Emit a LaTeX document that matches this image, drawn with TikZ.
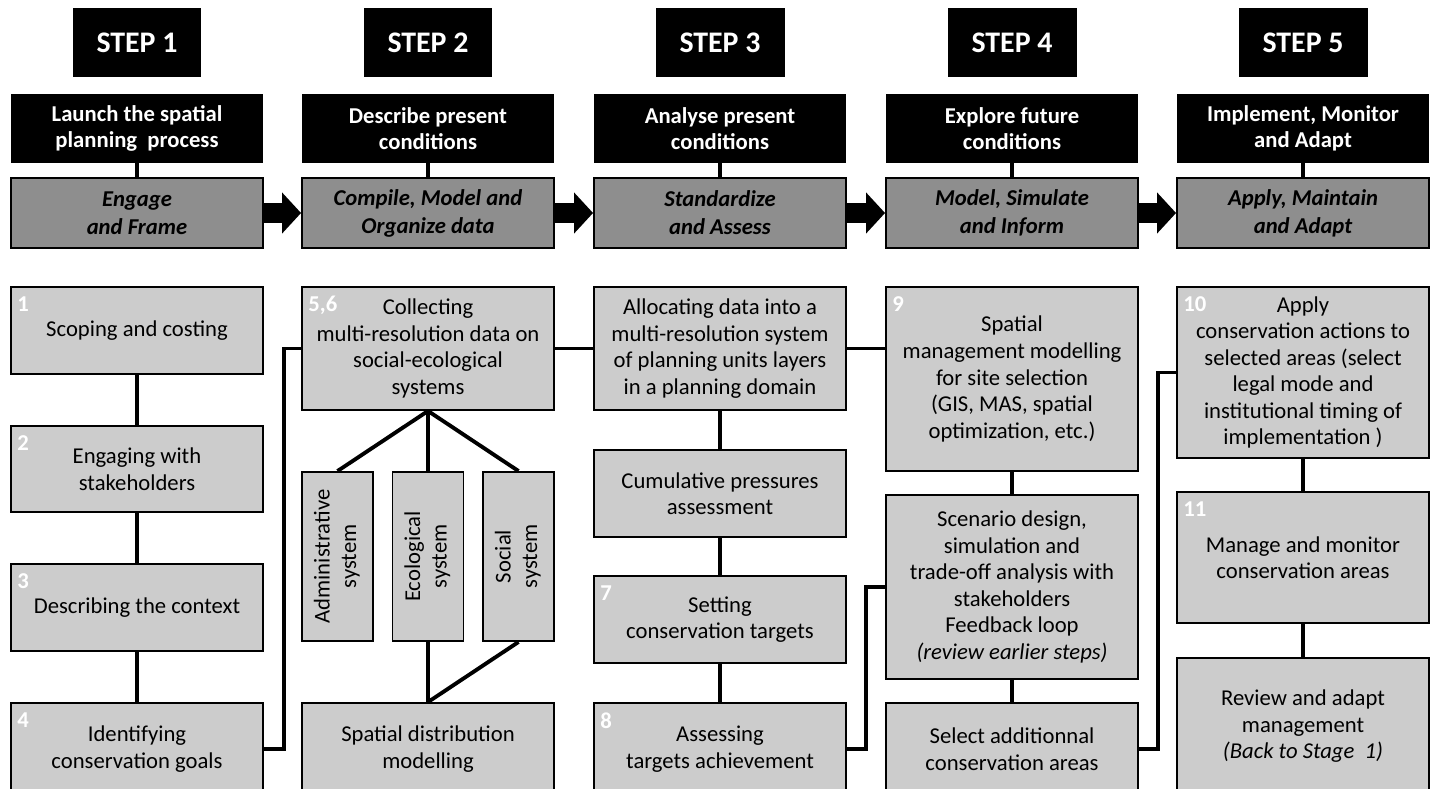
\documentclass[tikz,border=0pt]{standalone}
\usepackage{fontspec}
\setmainfont{Carlito}
\usetikzlibrary{arrows.meta}

\definecolor{boxgray}{RGB}{204,204,204}
\definecolor{rowgray}{RGB}{142,142,142}
\newcommand{\boxfont}{\fontsize{12.9}{15.1}\selectfont}

\begin{document}
\begin{tikzpicture}[x=0.02cm, y=-0.02cm, >={Triangle[length=0.38cm,width=0.8cm]},
  stephead/.style={fill=black, text=white, font=\fontsize{17}{20}\selectfont\bfseries,
    minimum width=2.58cm, minimum height=1.38cm},
  head/.style={fill=black, text=white, font=\boxfont\bfseries, align=center,
    minimum width=5.04cm, minimum height=1.38cm},
  task/.style={draw, fill=rowgray, line width=1.1pt, font=\fontsize{12.9}{15.9}\selectfont\bfseries\itshape,
    align=center, minimum width=5.04cm, minimum height=1.4cm},
  box/.style={draw, fill=boxgray, line width=1.1pt, font=\boxfont, align=center,
    inner sep=0pt, minimum width=5.04cm},
  sub/.style={draw, fill=boxgray, line width=1.1pt, font=\boxfont, inner sep=0pt,
    minimum width=1.42cm, minimum height=3.38cm},
  num/.style={label={[anchor=north west, inner sep=0pt, text=white, font=\boxfont\bfseries,
    xshift=0.14cm, yshift=-0.2cm]north west:#1}},
  link/.style={line width=2.2pt}]

  \useasboundingbox (0,0) rectangle (1432,788);
  \clip (0,0) rectangle (1432,788);

  \node (s1) at (137,42.5) [stephead] {STEP 1};
  \node (s2) at (428,42.5) [stephead] {STEP 2};
  \node (s3) at (720,42.5) [stephead] {STEP 3};
  \node (s4) at (1012,42.5) [stephead] {STEP 4};
  \node (s5) at (1303,42.5) [stephead] {STEP 5};

  \node (h1) at (137,128.5) [head] {Launch the spatial\\planning\ \ process};
  \node (h2) at (428,128.5) [head] {Describe present\\conditions};
  \node (h3) at (720,128.5) [head] {Analyse present\\conditions};
  \node (h4) at (1012,128.5) [head] {Explore future\\conditions};
  \node (h5) at (1303,128.5) [head] {Implement, Monitor\\and Adapt};

  \node (g1) at (137,213) [task] {Engage\\and Frame};
  \node (g2) at (428,213) [task] {Compile, Model and\\Organize data};
  \node (g3) at (720,213) [task] {Standardize\\and Assess};
  \node (g4) at (1012,213) [task] {Model, Simulate\\and Inform};
  \node (g5) at (1303,213) [task] {Apply, Maintain\\and Adapt};

  \draw [link] (h1) -- (g1);
  \draw [link] (h2) -- (g2);
  \draw [link] (h3) -- (g3);
  \draw [link] (h4) -- (g4);
  \draw [link] (h5) -- (g5);

  \draw [->, line width=0.4cm] (g1) -- (g2);
  \draw [->, line width=0.4cm] (g2) -- (g3);
  \draw [->, line width=0.4cm] (g3) -- (g4);
  \draw [->, line width=0.4cm] (g4) -- (g5);

  \node (n11) at (137,330.5) [box, minimum height=1.74cm, num=1] {Scoping and costing};
  \node (n12) at (137,469) [box, minimum height=1.72cm, num=2] {Engaging with\\stakeholders};
  \node (n13) at (137,607.5) [box, minimum height=1.74cm, num=3] {Describing the context};
  \node (n14) at (137,749) [box, minimum height=1.84cm, num=4] {Identifying\\conservation goals};

  \node (n21) at (428,348.5) [box, minimum height=2.46cm, num={5,6}] {Collecting\\multi-resolution data on\\social-ecological\\systems};
  \node (n22) at (337.5,556.5) [sub] {\rotatebox{90}{\begin{tabular}{@{}c@{}}Administrative\\system\end{tabular}}};
  \node (n23) at (428,556.5) [sub] {\rotatebox{90}{\begin{tabular}{@{}c@{}}Ecological\\system\end{tabular}}};
  \node (n24) at (518.5,556.5) [sub] {\rotatebox{90}{\begin{tabular}{@{}c@{}}Social\\system\end{tabular}}};
  \node (n25) at (428,749) [box, minimum height=1.84cm] {Spatial distribution\\modelling};

  \node (n31) at (720,348.5) [box, minimum height=2.46cm] {Allocating data into a\\multi-resolution system\\of planning units layers\\in a planning domain};
  \node (n32) at (720,493.5) [box, minimum height=1.74cm] {Cumulative pressures\\assessment};
  \node (n33) at (720,619.5) [box, minimum height=1.74cm, num=7] {Setting\\conservation targets};
  \node (n34) at (720,749) [box, minimum height=1.84cm, num=8] {Assessing\\targets achievement};

  \node (n41) at (1012,379) [box, minimum height=3.68cm, num=9] {Spatial\\management modelling\\for site selection\\(GIS, MAS, spatial\\optimization, etc.)};
  \node (n42) at (1012,587) [box, minimum height=3.68cm] {Scenario design,\\simulation and\\trade-off analysis with\\stakeholders\\Feedback loop\\\textit{(review earlier steps)}};
  \node (n43) at (1012,749) [box, minimum height=1.84cm] {Select additionnal\\conservation areas};

  \node (n51) at (1303,372.5) [box, minimum height=3.42cm, num=10] {Apply\\conservation actions to\\selected areas (select\\legal mode and\\institutional timing of\\implementation )};
  \node (n52) at (1303,557.5) [box, minimum height=2.62cm, num=11] {Manage and monitor\\conservation areas};
  \node (n53) at (1303,726.5) [box, minimum height=2.74cm] {Review and adapt\\management\\\textit{(Back to Stage\ \ 1)}};

  \draw [link] (n11) -- (n12);
  \draw [link] (n12) -- (n13);
  \draw [link] (n13) -- (n14);
  \draw [link] (n14.east) -- ++(20,0) |- (n21.west);

  \draw [link] (n21.south) -- (n22.north);
  \draw [link] (n21.south) -- (n23.north);
  \draw [link] (n21.south) -- (n24.north);
  \draw [link] (n23.south) -- (n25.north);
  \draw [link] (n24.south) -- (n25.north);
  \draw [link] (n21) -- (n31);

  \draw [link] (n31) -- (n32);
  \draw [link] (n32) -- (n33);
  \draw [link] (n33) -- (n34);
  \draw [link] (n31.east) -- (n31.east -| n41.west);
  \draw [link] (n34.east) -- ++(19,0) |- (n42.west);

  \draw [link] (n41) -- (n42);
  \draw [link] (n42) -- (n43);
  \draw [link] (n43.east) -- ++(19,0) |- (n51.west);

  \draw [link] (n51) -- (n52);
  \draw [link] (n52) -- (n53);

\end{tikzpicture}
\end{document}
